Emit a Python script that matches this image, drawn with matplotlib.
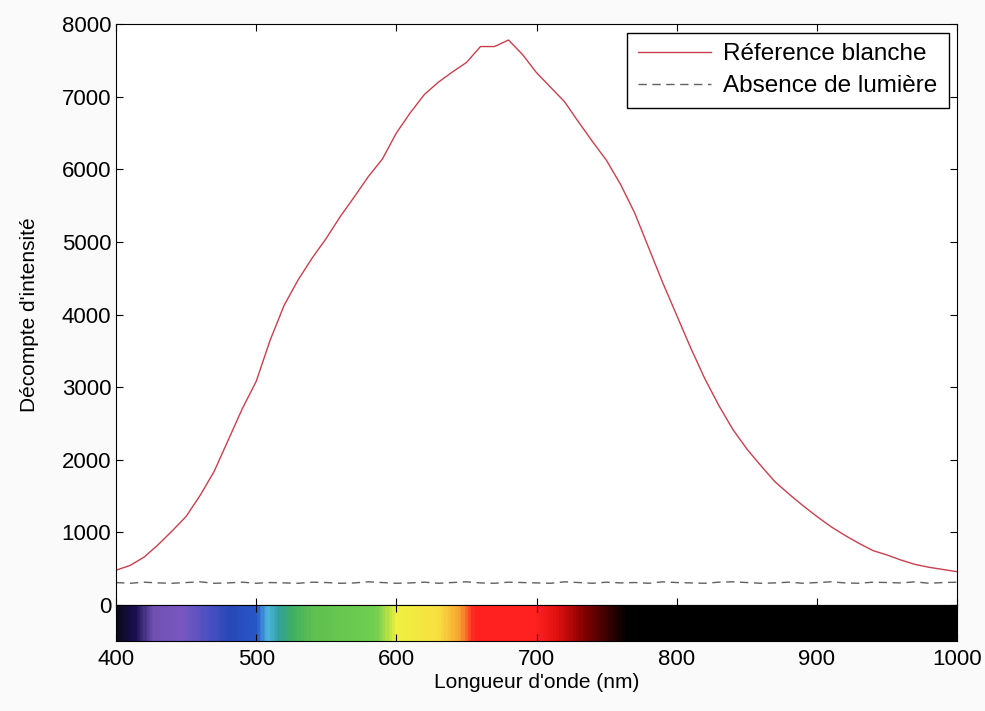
#spectre de la source lumineuse
import numpy as np
import matplotlib.pyplot as plt
from matplotlib.colors import LinearSegmentedColormap

plt.rcParams['font.family'] = ['Liberation Sans', 'DejaVu Sans']

# longueurs d'onde (nm)
wl = [400, 410, 420, 430, 440, 450, 460, 470, 480, 490,
      500, 510, 520, 530, 540, 550, 560, 570, 580, 590,
      600, 610, 620, 630, 640, 650, 660, 670, 680, 690,
      700, 710, 720, 730, 740, 750, 760, 770, 780, 790,
      800, 810, 820, 830, 840, 850, 860, 870, 880, 890,
      900, 910, 920, 930, 940, 950, 960, 970, 980, 990, 1000]

# reference blanche
ref = [480, 545, 660, 830, 1020, 1220, 1510, 1840, 2270, 2700,
       3080, 3650, 4130, 4480, 4780, 5050, 5350, 5620, 5900, 6140,
       6500, 6780, 7030, 7200, 7340, 7470, 7690, 7690, 7780, 7580,
       7330, 7130, 6930, 6650, 6380, 6120, 5790, 5400, 4920, 4440,
       3990, 3540, 3120, 2750, 2420, 2150, 1920, 1700, 1530, 1370,
       1220, 1080, 960, 850, 750, 690, 620, 560, 520, 490, 460]

# absence de lumiere
dark = [310, 300, 315, 305, 300, 310, 320, 300, 305, 315,
        300, 310, 305, 300, 315, 310, 300, 305, 320, 310,
        300, 305, 315, 300, 310, 320, 305, 300, 315, 310,
        305, 300, 320, 310, 300, 315, 305, 310, 300, 320,
        310, 305, 300, 315, 320, 310, 300, 305, 315, 300,
        310, 320, 305, 300, 315, 310, 305, 320, 300, 310, 315]

# couleurs du spectre visible
strip_nm = [400, 412, 425, 445, 465, 480, 500, 507, 515, 525, 540, 585,
            600, 630, 645, 655, 700, 715, 735, 765, 1000]
strip_colors = ['#0a0a20', '#1a1050', '#7050b0', '#7a58c0', '#4a50c0', '#2848b8',
                '#2858c8', '#50b8e0', '#30a0a0', '#40b060', '#60c050', '#70d050',
                '#f0f040', '#f8e040', '#f8a030', '#ff2020', '#ff2020', '#e01010',
                '#800000', '#000000', '#000000']

fig = plt.figure(figsize=(9.85, 7.11), dpi=100)
fig.patch.set_facecolor('#fafafa')

ax = fig.add_axes([0.1178, 0.149, 0.8538, 0.8172])
ax.plot(wl, ref, color='#c8404e', lw=1.0, label='Réference blanche')
ax.plot(wl, dark, color='#606060', lw=1.0, ls=(0, (6, 4)), label='Absence de lumière')
ax.set_xlim(400, 1000)
ax.set_ylim(0, 8000)
ax.set_yticks(np.arange(0, 8001, 1000))
ax.set_xticks(np.arange(400, 1001, 100))
ax.tick_params(direction='in', top=True, right=True, labelbottom=False, labelsize=16, length=5)
ax.set_ylabel("Décompte d'intensité", fontsize=15, labelpad=16)
leg = ax.legend(loc='upper right', fontsize=17.5, fancybox=False, framealpha=1,
                edgecolor='black', handlelength=3.0, handletextpad=0.5,
                labelspacing=0.4, borderpad=0.45, borderaxespad=0.35)
leg.get_frame().set_linewidth(1.0)

# bande spectrale
ax2 = fig.add_axes([0.1178, 0.0985, 0.8538, 0.0505])
pos = [(n - strip_nm[0]) / (strip_nm[-1] - strip_nm[0]) for n in strip_nm]
cmap = LinearSegmentedColormap.from_list('spectre', list(zip(pos, strip_colors)))
grad = np.linspace(400, 1000, 600).reshape(1, -1)
ax2.imshow(grad, cmap=cmap, aspect='auto', extent=[400, 1000, 0, 1], vmin=400, vmax=1000)
ax2.set_xlim(400, 1000)
ax2.set_yticks([])
ax2.set_xticks(np.arange(400, 1001, 100))
ax2.tick_params(direction='in', top=True, labelsize=16, length=5, pad=6)
ax2.set_xlabel("Longueur d'onde (nm)", fontsize=15, labelpad=2)

fig.savefig('out.png', dpi=100, facecolor=fig.get_facecolor())
